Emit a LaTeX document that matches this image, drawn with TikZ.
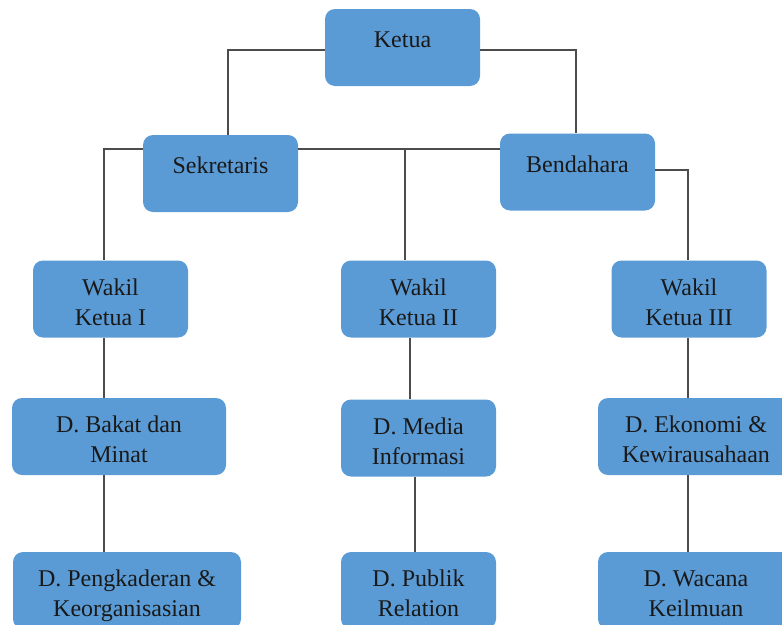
\documentclass[tikz,border=0pt]{standalone}
\usepackage{fontspec}
\setmainfont{Liberation Serif}
\usepackage{tikz}
\definecolor{boxblue}{RGB}{91,155,213}
\tikzset{
  box/.style={rounded corners=10pt, fill=boxblue, align=center, inner sep=0pt,
    minimum width=155pt, minimum height=77pt, text=black!90,
    font=\fontsize{24}{30}\selectfont, text height=16pt, text depth=16pt},
  box2/.style={box, text height=52pt, text depth=0pt},
  link/.style={draw=black!70, line width=1.2pt}
}

\begin{document}
\begin{tikzpicture}[x=1pt, y=-1pt]
\useasboundingbox (0,0) rectangle (782,624);
\node [box] (k) at (402.5,47.5) {Ketua};
\node [box] (s) at (220.5,173.5) {Sekretaris};
\node [box] (b) at (577.5,172) {Bendahara};

\node [box2] (w1) at (110.5,299) {Wakil\\Ketua I};
\node [box2] (w2) at (418.5,299) {Wakil\\Ketua II};
\node [box2] (w3) at (689,299) {Wakil\\Ketua III};

\node [box2, minimum width=214pt] (d1) at (119,436.5) {D. Bakat dan\\Minat};
\node [box2] (d2) at (418.5,438) {D. Media\\Informasi};
\node [box2, minimum width=196pt] (d3) at (696,436.5) {D. Ekonomi \&\\Kewirausahaan};

\node [box2, minimum width=228pt] (d4) at (127,590.5) {D. Pengkaderan \&\\Keorganisasian};
\node [box2] (d5) at (418.5,590.5) {D. Publik\\Relation};
\node [box2, minimum width=196pt] (d6) at (696,590.5) {D. Wacana\\Keilmuan};

% column lines
\coordinate (x1) at (104,0);
\coordinate (x2) at (410,0);
\coordinate (x3) at (415,0);
\coordinate (x4) at (688,0);
\coordinate (j2) at (405,149);

\draw[link] ([yshift=-2.5pt]k.west) -| ([xshift=7.5pt]s.north);
\draw[link] ([yshift=-2.5pt]k.east) -| ([xshift=-1.5pt]b.north);
\draw[link] ([yshift=24.5pt]s.west) -| (w1.north -| x1);
\draw[link] ([yshift=24.5pt]s.east) coordinate (s1) -- (s1 -| b.west);
\draw[link] (j2) -- (j2 |- w2.north);
\draw[link] ([yshift=2pt]b.east) -| (w3.north -| x4);

\draw[link] (w1.south -| x1) -- (d1.north -| x1);
\draw[link] (d1.south -| x1) -- (d4.north -| x1);
\draw[link] (w2.south -| x2) -- (d2.north -| x2);
\draw[link] (d2.south -| x3) -- (d5.north -| x3);
\draw[link] (w3.south -| x4) -- (d3.north -| x4);
\draw[link] (d3.south -| x4) -- (d6.north -| x4);
\end{tikzpicture}
\end{document}
